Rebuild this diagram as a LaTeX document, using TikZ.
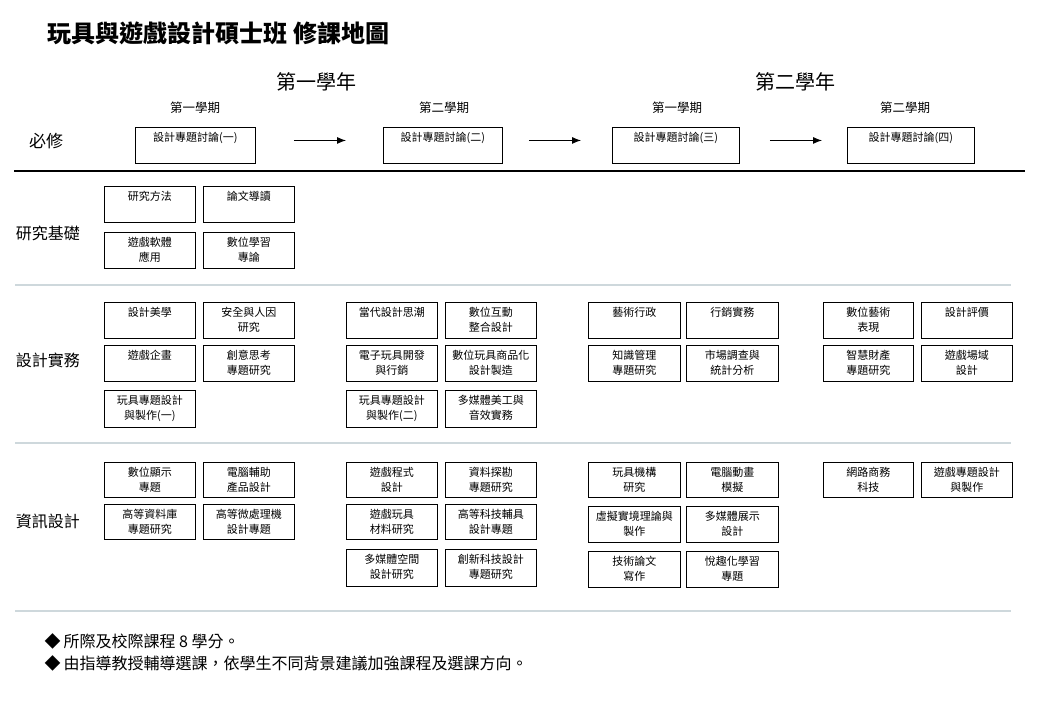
\documentclass[tikz,border=0pt]{standalone}
\usepackage{fontspec}
\setmainfont{Noto Sans CJK TC}
\usetikzlibrary{arrows.meta}
\newcommand\cb[6]{\node[cbox] (#1) at (#2,#3) {\parbox[c][#5pt][t]{#4pt}{\centering\vspace*{4.5pt}#6}};}
\begin{document}
\begin{tikzpicture}[x=1pt,y=-1pt,
  cbox/.style={draw, line width=0.9pt, inner sep=0pt, anchor=north west, font=\fontsize{11}{15}\selectfont},
  sep/.style={line width=1.5pt, draw={rgb,255:red,206;green,216;blue,220}},
  arr/.style={line width=0.9pt, -{Latex[length=9pt,width=7pt]}},
  sect/.style={font=\fontsize{16}{18}\selectfont},
  yr/.style={font=\fontsize{20}{22}\selectfont},
  sem/.style={font=\fontsize{12.5}{14}\selectfont},
  note/.style={font=\fontsize{16}{18}\selectfont, anchor=west}]
\path[use as bounding box, fill=white] (0,0) rectangle (1040,720);
% title
\node[anchor=west, font=\fontsize{24}{27}\selectfont\bfseries] (title) at (44,33) {玩具與遊戲設計碩士班 修課地圖};
% year and semester headings
\node[yr] (y1) at (316,82) {第一學年};
\node[yr] (y2) at (795,82) {第二學年};
\node[sem] (s1) at (195,108) {第一學期};
\node[sem] (s2) at (444,108) {第二學期};
\node[sem] (s3) at (677,108) {第一學期};
\node[sem] (s4) at (905,108) {第二學期};
% required
\node[font=\fontsize{17}{19}\selectfont] (req) at (46,141) {必修};
\cb{r1}{135}{127}{120}{36}{設計專題討論(一)}
\cb{r2}{383}{127}{119}{36}{設計專題討論(二)}
\cb{r3}{612}{127}{127}{36}{設計專題討論(三)}
\cb{r4}{847}{127}{127}{36}{設計專題討論(四)}
\draw[arr, shorten <=38pt, shorten >=37pt] ([yshift=5pt]r1.east) -- ([yshift=5pt]r2.west);
\draw[arr, shorten <=26pt, shorten >=31pt] ([yshift=5pt]r2.east) -- ([yshift=5pt]r3.west);
\draw[arr, shorten <=30pt, shorten >=25pt] ([yshift=5pt]r3.east) -- ([yshift=5pt]r4.west);
\coordinate (tl) at (14,171);
\coordinate (tr) at (1025,171);
\draw[line width=2.5pt] (tl) -- (tr);
% research basics
\node[sect] (secA) at (48,233) {研究基礎};
\cb{a1}{104}{186}{91}{36}{研究方法}
\cb{a2}{203}{186}{91}{36}{論文導讀}
\cb{a3}{104}{232}{91}{36}{遊戲軟體\\應用}
\cb{a4}{203}{232}{91}{36}{數位學習\\專論}
\coordinate (l1a) at (15,285);
\coordinate (l1b) at (1011,285);
\draw[sep] (l1a) -- (l1b);
% design practice
\node[sect] (secB) at (48,360) {設計實務};
\cb{b1}{104}{302}{91}{36}{設計美學}
\cb{b2}{203}{302}{91}{36}{安全與人因\\研究}
\cb{b3}{104}{345}{91}{36}{遊戲企畫}
\cb{b4}{203}{345}{91}{36}{創意思考\\專題研究}
\cb{b5}{104}{390}{91}{37}{玩具專題設計\\與製作(一)}
\cb{b6}{346}{302}{91}{36}{當代設計思潮}
\cb{b7}{445}{302}{91}{36}{數位互動\\整合設計}
\cb{b8}{346}{345}{91}{36}{電子玩具開發\\與行銷}
\cb{b9}{445}{345}{91}{36}{數位玩具商品化\\設計製造}
\cb{b10}{346}{390}{91}{37}{玩具專題設計\\與製作(二)}
\cb{b11}{445}{390}{91}{37}{多媒體美工與\\音效實務}
\cb{b12}{588}{302}{92}{36}{藝術行政}
\cb{b13}{686}{302}{92}{36}{行銷實務}
\cb{b14}{588}{345}{92}{36}{知識管理\\專題研究}
\cb{b15}{686}{345}{92}{36}{市場調查與\\統計分析}
\cb{b16}{823}{302}{90}{36}{數位藝術\\表現}
\cb{b17}{921}{302}{91}{36}{設計評價}
\cb{b18}{823}{345}{90}{36}{智慧財產\\專題研究}
\cb{b19}{921}{345}{91}{36}{遊戲場域\\設計}
\coordinate (l2a) at (15,443);
\coordinate (l2b) at (1011,443);
\draw[sep] (l2a) -- (l2b);
% information design
\node[sect] (secC) at (48,521) {資訊設計};
\cb{c1}{104}{462}{91}{35}{數位顯示\\專題}
\cb{c2}{203}{462}{91}{35}{電腦輔助\\產品設計}
\cb{c3}{104}{504}{91}{35}{高等資料庫\\專題研究}
\cb{c4}{203}{504}{91}{35}{高等微處理機\\設計專題}
\cb{c5}{346}{462}{91}{35}{遊戲程式\\設計}
\cb{c6}{445}{462}{91}{35}{資料探勘\\專題研究}
\cb{c7}{346}{504}{91}{35}{遊戲玩具\\材料研究}
\cb{c8}{445}{504}{91}{35}{高等科技輔具\\設計專題}
\cb{c9}{346}{549}{91}{37}{多媒體空間\\設計研究}
\cb{c10}{445}{549}{91}{37}{創新科技設計\\專題研究}
\cb{c11}{588}{462}{92}{35}{玩具機構\\研究}
\cb{c12}{686}{462}{92}{35}{電腦動畫\\模擬}
\cb{c13}{588}{506}{92}{36}{虛擬實境理論與\\製作}
\cb{c14}{686}{506}{92}{36}{多媒體展示\\設計}
\cb{c15}{588}{551}{92}{36}{技術論文\\寫作}
\cb{c16}{686}{551}{92}{36}{悅趣化學習\\專題}
\cb{c17}{823}{462}{90}{35}{網路商務\\科技}
\cb{c18}{921}{462}{91}{35}{遊戲專題設計\\與製作}
\coordinate (l3a) at (15,611);
\coordinate (l3b) at (1011,611);
\draw[sep] (l3a) -- (l3b);
% notes
\node[note] (n1) at (41,641) {◆\hspace{3pt}所際及校際課程 8 學分。};
\node[note] (n2) at (41,663) {◆\hspace{3pt}由指導教授輔導選課，依學生不同背景建議加強課程及選課方向。};
\end{tikzpicture}
\end{document}
